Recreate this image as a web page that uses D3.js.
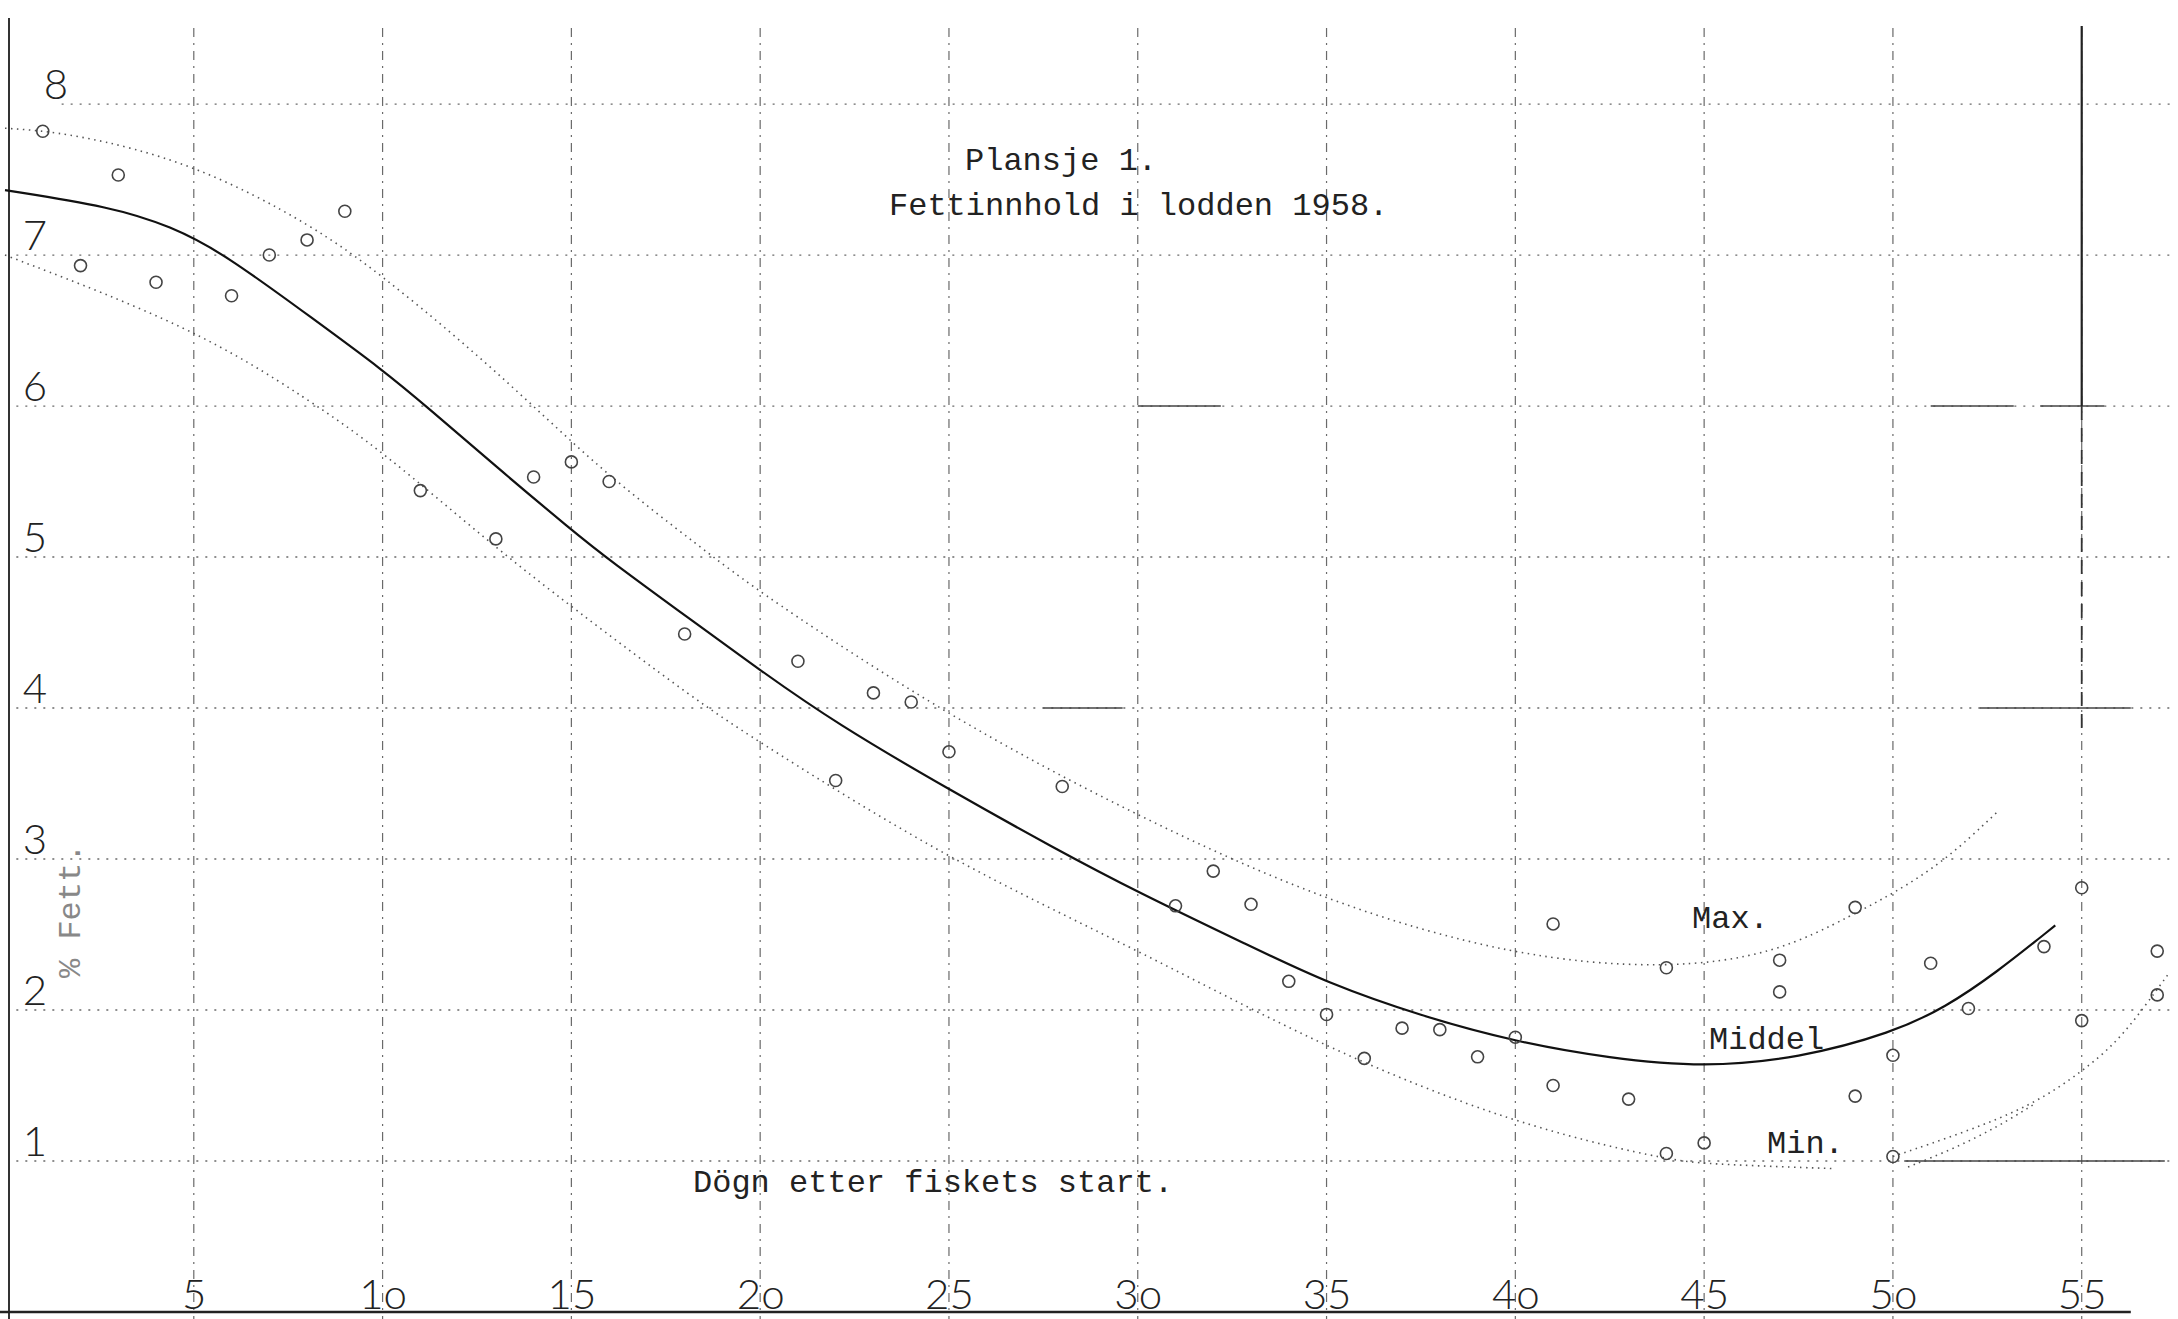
<!DOCTYPE html>
<html>
<head>
<meta charset="utf-8">
<script src="https://cdn.jsdelivr.net/npm/d3@7/dist/d3.min.js"></script>
<style>
  body { margin: 0; background: #fff; }
  svg { display: block; }
</style>
</head>
<body>
<div id="chart"></div>
<script>
// days after the fishery started (x) and fat % (y)
const dayTicks = [5, 10, 15, 20, 25, 30, 35, 40, 45, 50, 55];
const dayLabels = ["5", "1o", "15", "2o", "25", "3o", "35", "4o", "45", "5o", "55"];
const fatTicks = [1, 2, 3, 4, 5, 6, 7, 8];
const fatLabels = ["1", "2", "3", "4", "5", "6", "7", "8"];

// single samples [day, fat %]
const samples = [
  [1, 7.82], [2, 6.93], [3, 7.53], [4, 6.82], [6, 6.73], [7, 7.0], [8, 7.1], [9, 7.29],
  [11, 5.44], [13, 5.12], [14, 5.53], [15, 5.63], [16, 5.5], [18, 4.49], [21, 4.31],
  [22, 3.52], [23, 4.1], [24, 4.04], [25, 3.71], [28, 3.48], [31, 2.69], [32, 2.92],
  [33, 2.70], [34, 2.19], [35, 1.97], [36, 1.68], [37, 1.88], [38, 1.87], [39, 1.69],
  [40, 1.82], [41, 2.57], [41, 1.50], [43, 1.41], [44, 2.28], [44, 1.05], [45, 1.12],
  [47, 2.33], [47, 2.12], [49, 2.68], [49, 1.43], [50, 1.70], [50, 1.03], [51, 2.31],
  [52, 2.01], [54, 2.42], [55, 2.81], [55, 1.93], [57, 2.39], [57, 2.10]
];

// hand drawn curves
const middel = [
  [0, 7.43], [2.8, 7.32], [4.4, 7.19], [5.8, 7.01], [8.2, 6.57], [10, 6.24], [11.2, 5.99],
  [13, 5.6], [15, 5.18], [16, 4.98], [18.3, 4.56], [20, 4.25], [22, 3.9], [25, 3.46],
  [27.8, 3.07], [30, 2.78], [33, 2.42], [35, 2.18], [37.5, 1.96], [40, 1.79], [42.5, 1.68],
  [45, 1.62], [47.5, 1.68], [50, 1.85], [51.4, 2.02], [52.7, 2.24], [54.3, 2.56]
];
const maxCurve = [
  [0, 7.84], [1.75, 7.81], [5, 7.61], [8.2, 7.19], [10, 6.86], [12, 6.45], [14, 6.0],
  [16, 5.53], [18.4, 5.07], [20, 4.76], [25, 3.94], [30, 3.28], [35, 2.71], [40, 2.35],
  [44, 2.27], [46.9, 2.37], [49, 2.64], [50, 2.77], [51.4, 2.99], [52.8, 3.32]
];
const minCurve = [
  [0, 7.0], [5, 6.52], [8.06, 6.04], [10, 5.7], [12.85, 5.09], [15, 4.67], [18.3, 4.05],
  [20, 3.77], [25, 2.99], [30, 2.40], [35, 1.74], [40, 1.24], [44, 1.01], [45, 0.98],
  [48.4, 0.95]
];
const minRight = [
  [50, 1.03], [51.9, 1.19], [53.7, 1.37], [55, 1.59], [55.9, 1.78], [56.6, 2.0], [57.3, 2.24]
];
const minRightLow = [
  [50.4, 0.96], [51.6, 1.08], [52.8, 1.23], [53.7, 1.37]
];

// heavier typed rules on the grid [fat %, from day, to day]
const ruleSegments = [
  [6, 30, 32.2], [6, 51, 53.2], [6, 53.9, 55.6], [4, 27.5, 29.6], [4, 52.3, 56.3], [1, 50.3, 57.2]
];

const W = 2178, H = 1319;
const x = d3.scaleLinear().domain([0, 57.55]).range([5, W]);
const y = d3.scaleLinear().domain([0, 8.689]).range([1312, 0]);

const svg = d3.select('#chart').append('svg')
  .attr('width', W).attr('height', H);

svg.append('rect').attr('width', W).attr('height', H).attr('fill', '#fff');

const mono = '"Liberation Mono", "DejaVu Sans Mono", monospace';
const thin = 'Lato, "DejaVu Sans", sans-serif';

// typed grid
const grid = svg.append('g').attr('stroke', '#6a6a6a').attr('fill', 'none');
grid.selectAll('.hgrid').data(fatTicks).enter().append('line')
  .attr('class', 'hgrid')
  .attr('x1', d => d === 8 ? x(1.5) : x(0.3)).attr('x2', x(57.5))
  .attr('y1', d => y(d)).attr('y2', d => y(d))
  .attr('stroke-width', 1.3)
  .attr('stroke-dasharray', '2,7');
grid.selectAll('.vgrid').data(dayTicks).enter().append('line')
  .attr('class', 'vgrid')
  .attr('x1', d => x(d)).attr('x2', d => x(d))
  .attr('y1', 28).attr('y2', H)
  .attr('stroke-width', 1.2)
  .attr('stroke-dasharray', '9,6,2,6');
grid.selectAll('.rule').data(ruleSegments).enter().append('line')
  .attr('class', 'rule')
  .attr('x1', d => x(d[1])).attr('x2', d => x(d[2]))
  .attr('y1', d => y(d[0])).attr('y2', d => y(d[0]))
  .attr('stroke', '#444').attr('stroke-width', 1.4);

// frame
svg.append('line').attr('x1', x(0) + 4).attr('x2', x(0) + 4).attr('y1', 18).attr('y2', H)
  .attr('stroke', '#333').attr('stroke-width', 2);
svg.append('line').attr('x1', 0).attr('x2', x(56.3)).attr('y1', y(0)).attr('y2', y(0))
  .attr('stroke', '#222').attr('stroke-width', 2.5);
svg.append('line').attr('x1', x(55)).attr('x2', x(55)).attr('y1', 26).attr('y2', y(6))
  .attr('stroke', '#222').attr('stroke-width', 2.2);
svg.append('line').attr('x1', x(55)).attr('x2', x(55)).attr('y1', y(6)).attr('y2', y(3.85))
  .attr('stroke', '#333').attr('stroke-width', 1.8).attr('stroke-dasharray', '14,8');

// curves
const line = d3.line()
  .x(d => x(d[0])).y(d => y(d[1]))
  .curve(d3.curveBasis);

svg.append('path').datum(middel).attr('d', line)
  .attr('fill', 'none').attr('stroke', '#111').attr('stroke-width', 2.2);
[maxCurve, minCurve, minRight, minRightLow].forEach(c => {
  svg.append('path').datum(c).attr('d', line)
    .attr('fill', 'none').attr('stroke', '#555')
    .attr('stroke-width', 1.6).attr('stroke-dasharray', '1.5,4.5');
});

// samples
svg.selectAll('.pt').data(samples).enter().append('circle')
  .attr('class', 'pt')
  .attr('cx', d => x(d[0])).attr('cy', d => y(d[1]))
  .attr('r', 6)
  .attr('fill', 'none').attr('stroke', '#444').attr('stroke-width', 1.6);

// axis labels
const xAxis = svg.append('g')
  .attr('transform', `translate(0,${y(0)})`)
  .call(d3.axisBottom(x).tickValues(dayTicks).tickFormat((d, i) => dayLabels[i]).tickSize(0));
xAxis.select('.domain').remove();
xAxis.selectAll('text')
  .attr('y', -3).attr('dy', 0)
  .attr('font-family', thin).attr('font-weight', 300)
  .attr('font-size', 42).attr('fill', '#222');

svg.selectAll('.ylab').data(fatTicks).enter().append('text')
  .attr('class', 'ylab')
  .attr('x', d => d === 8 ? 56 : 35)
  .attr('y', d => y(d) - 5)
  .attr('text-anchor', 'middle')
  .attr('font-family', thin).attr('font-weight', 300)
  .attr('font-size', 42).attr('fill', '#222')
  .text((d, i) => fatLabels[i]);

// typed texts
const typed = (t, px, py, opts = {}) => svg.append('text')
  .attr('x', px).attr('y', py)
  .attr('font-family', mono).attr('font-size', opts.size || 32)
  .attr('fill', opts.fill || '#222')
  .attr('transform', opts.rotate ? `rotate(-90,${px},${py})` : null)
  .text(t);

typed('Plansje 1.', 965, 170);
typed('Fettinnhold i lodden 1958.', 889, 215);
typed('Dögn etter fiskets start.', 693, 1192);
typed('Max.', 1692, 928);
typed('Middel', 1709, 1049);
typed('Min.', 1767, 1153);
typed('% Fett.', 80, 978, { rotate: true, fill: '#888' });
</script>
</body>
</html>
